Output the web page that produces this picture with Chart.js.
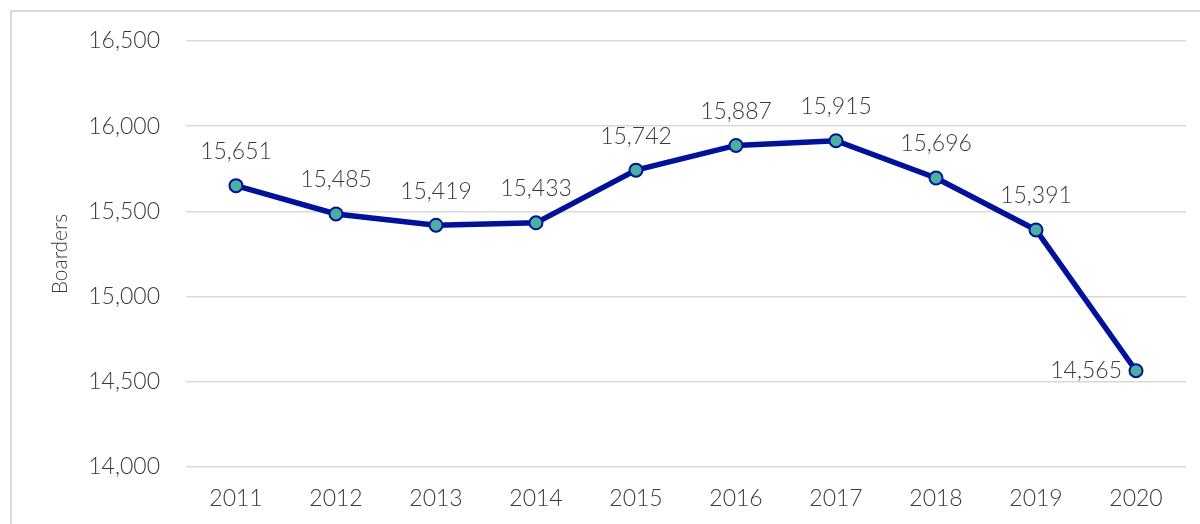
<!DOCTYPE html>
<html>
<head>
<meta charset="utf-8">
<script src="https://cdn.jsdelivr.net/npm/chart.js@4"></script>
<style>
  html, body { margin: 0; padding: 0; background: #fff; }
  #wrap { position: relative; width: 1200px; height: 524px; overflow: hidden; }
  #frame { position: absolute; left: 10px; top: 10px; width: 1200px; height: 600px; border: 2px solid #d9d9d9; box-sizing: border-box; }
  canvas { position: absolute; left: 0; top: 0; }
</style>
</head>
<body>
<div id="wrap">
  <div id="frame"></div>
  <canvas id="chart" width="1200" height="524"></canvas>
</div>
<script>
// Data
const years = ["2011", "2012", "2013", "2014", "2015", "2016", "2017", "2018", "2019", "2020"];
const boarders = [15651, 15485, 15419, 15433, 15742, 15887, 15915, 15696, 15391, 14565];
const yMin = 14000;
const yMax = 16500;
const yStep = 500;

const textColor = "#3a3a3a";
const fontFamily = "Lato, 'Open Sans', sans-serif";

// Simple value labels drawn above each point (last one sits to the left)
const valueLabels = {
  id: "valueLabels",
  afterDatasetsDraw(chart) {
    const ctx = chart.ctx;
    const meta = chart.getDatasetMeta(0);
    ctx.save();
    ctx.font = "300 23px " + fontFamily;
    ctx.fillStyle = textColor;
    meta.data.forEach((pt, i) => {
      const txt = boarders[i].toLocaleString("en-US");
      ctx.textBaseline = "middle";
      if (i === meta.data.length - 1) {
        ctx.textAlign = "right";
        ctx.fillText(txt, pt.x - 14, pt.y);
      } else {
        ctx.textAlign = "center";
        ctx.fillText(txt, pt.x, pt.y - 34);
      }
    });
    ctx.restore();
  }
};

new Chart(document.getElementById("chart"), {
  type: "line",
  data: {
    labels: years,
    datasets: [{
      label: "Boarders",
      data: boarders,
      borderColor: "#00129a",
      borderWidth: 5.5,
      pointRadius: 6.5,
      pointBackgroundColor: "#4bb0a0",
      pointBorderColor: "#00129a",
      pointBorderWidth: 2,
      tension: 0,
      fill: false
    }]
  },
  options: {
    responsive: false,
    animation: false,
    layout: { padding: { top: 41, right: 14, left: 0, bottom: 0 } },
    plugins: {
      legend: { display: false },
      tooltip: { enabled: false }
    },
    scales: {
      x: {
        offset: true,
        grid: { display: false, drawTicks: false },
        border: { display: false },
        ticks: { color: textColor, font: { family: fontFamily, size: 23, weight: 300 }, padding: 18, maxRotation: 0 },
        afterFit: (scale) => { scale.height = 57; }
      },
      y: {
        min: yMin,
        max: yMax,
        ticks: {
          stepSize: yStep,
          color: textColor,
          font: { family: fontFamily, size: 23, weight: 300 },
          padding: 26,
          callback: (v) => v.toLocaleString("en-US")
        },
        grid: { color: "#d9d9d9", lineWidth: 1.5, drawTicks: false },
        border: { display: false },
        title: {
          display: true,
          text: "Boarders",
          color: textColor,
          font: { family: fontFamily, size: 21, weight: 300 },
          padding: { top: 48, bottom: 0 }
        },
        afterFit: (scale) => { scale.width = 186; }
      }
    }
  },
  plugins: [valueLabels]
});
</script>
</body>
</html>
